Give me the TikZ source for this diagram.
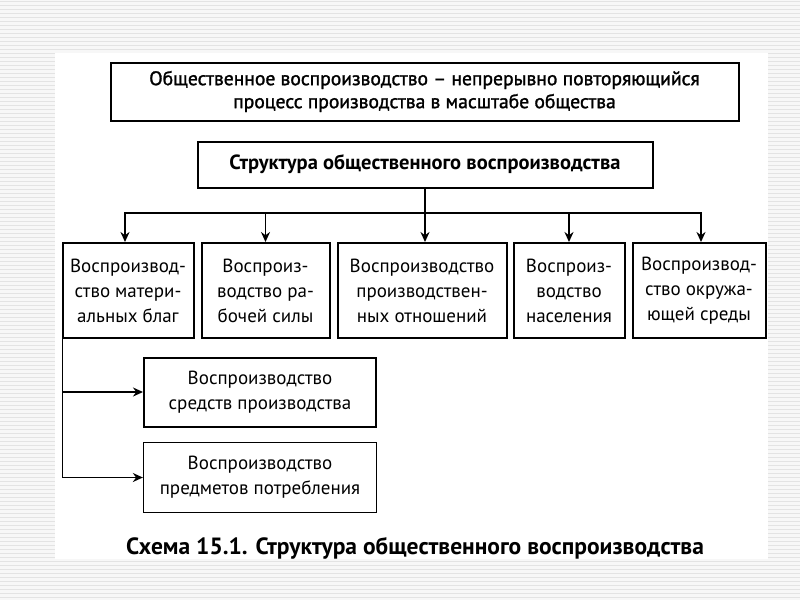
\documentclass[tikz,border=0pt]{standalone}
\usepackage{fontspec}
\setmainfont{PT Sans}
\newfontfamily\semib{PT Sans}[FakeBold=1.5]
\usetikzlibrary{arrows.meta}
\tikzset{
  box/.style={draw=black, line width=2pt, fill=white, align=center, inner sep=2pt,
    font=\fontsize{19}{25}\selectfont},
  thinbox/.style={box, line width=1.3pt},
  conn/.style={line width=2pt},
  arr/.style={line width=1.8pt, -{Stealth[length=10pt,width=9pt]}},
}
\begin{document}
\begin{tikzpicture}[x=1pt,y=-1pt]
\useasboundingbox (0,0) rectangle (800,600);
% striped background
\fill[gray!6] (0,0) rectangle (800,600);
\foreach \yy in {1,5,...,600} {\draw[gray!22, line width=0.8pt] (0,\yy) -- (800,\yy);}
\fill[white] (55,53) rectangle (768,559);

\node[box, minimum width=628pt, minimum height=58pt, font=\fontsize{19.6}{23}\selectfont] (top) at (424.5,91.5)
  {\semib Общественное воспроизводство – непрерывно повторяющийся\\ \semib процесс производства в масштабе общества};
\node[box, minimum width=455pt, minimum height=46pt, font=\fontsize{20.5}{25}\selectfont\bfseries] (str) at (425,164.5)
  {Структура общественного воспроизводства};

\node[box, minimum width=131pt, minimum height=95pt] (b1) at (128,290.5) {Воспроизвод-\\ство матери-\\альных благ};
\node[box, minimum width=128pt, minimum height=95pt] (b2) at (265.5,290.5) {Воспроиз-\\водство ра-\\бочей силы};
\node[box, minimum width=169pt, minimum height=95pt] (b3) at (422,290.5) {Воспроизводство\\производствен-\\ных отношений};
\node[box, minimum width=111pt, minimum height=95pt] (b4) at (569,290.5) {Воспроиз-\\водство\\населения};
\node[box, minimum width=133pt, minimum height=95pt] (b5) at (699,290.5) {Воспроизвод-\\ство окружа-\\ющей среды};

\node[box, minimum width=232pt, minimum height=69pt] (sa) at (260,392) {Воспроизводство\\средств производства};
\node[thinbox, minimum width=233pt, minimum height=70pt] (sb) at (260,477.5) {Воспроизводство\\предметов потребления};

\node[font=\fontsize{23.5}{25}\selectfont\bfseries] (cap) at (415,548) {Схема 15.1. Структура общественного воспроизводства};

\coordinate (hub) at (str.south |- 0,213);
\draw[conn] (str.south) -- (hub);
\draw[arr] (hub) -- (hub |- b3.north);
\draw[arr] (hub) -| ([xshift=-3pt]b1.north);
\draw[arr] (hub) -| (b2.north);
\draw[arr] (hub) -| (b4.north);
\draw[arr] (hub) -| ([xshift=2pt]b5.north);

\coordinate (lft) at ([xshift=1pt]b1.south west);
\draw[arr] (lft) |- (sa.west);
\draw[arr] (lft) |- (sb.west);
\end{tikzpicture}
\end{document}
